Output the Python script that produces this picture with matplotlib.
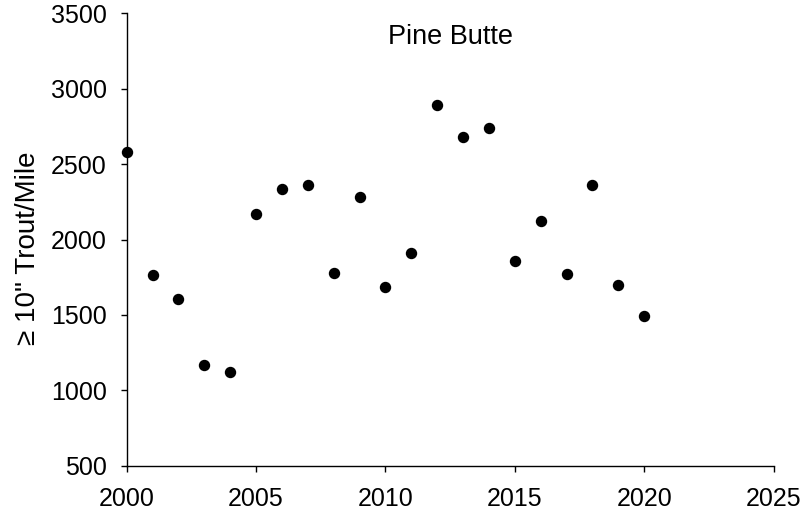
import matplotlib
matplotlib.use("Agg")
import matplotlib.pyplot as plt

years = list(range(2000, 2021))
trout_per_mile = [2580, 1765, 1606, 1170, 1121, 2171, 2337, 2363, 1776, 2284,
                  1683, 1910, 2892, 2678, 2739, 1860, 2121, 1773, 2361, 1698, 1495]
x_ticks = [2000, 2005, 2010, 2015, 2020, 2025]
y_ticks = [500, 1000, 1500, 2000, 2500, 3000, 3500]

plt.rcParams["font.family"] = ["Liberation Sans", "DejaVu Sans"]

fig = plt.figure(figsize=(8.05, 5.15), dpi=100)
ax = fig.add_axes([0.1574, 0.0957, 0.8035, 0.8784])

ax.plot(years, trout_per_mile, "o", color="black", markersize=7.2, clip_on=False, zorder=3)

ax.set_xlim(2000, 2025)
ax.set_ylim(500, 3500)
ax.set_xticks(x_ticks)
ax.set_yticks(y_ticks)
ax.tick_params(direction="out", length=4.3, width=1, labelsize=18)
ax.tick_params(axis="y", pad=10)
ax.tick_params(axis="x", pad=11)
for side in ("top", "right"):
    ax.spines[side].set_visible(False)
for side in ("left", "bottom"):
    ax.spines[side].set_linewidth(1)

ax.set_ylabel("≥ 10\" Trout/Mile", fontsize=20)
ax.yaxis.set_label_coords(-0.132, 0.48)
ax.text(2012.5, 3343, "Pine Butte", fontsize=19.5, ha="center", va="center")

fig.savefig("out.png", dpi=100)
